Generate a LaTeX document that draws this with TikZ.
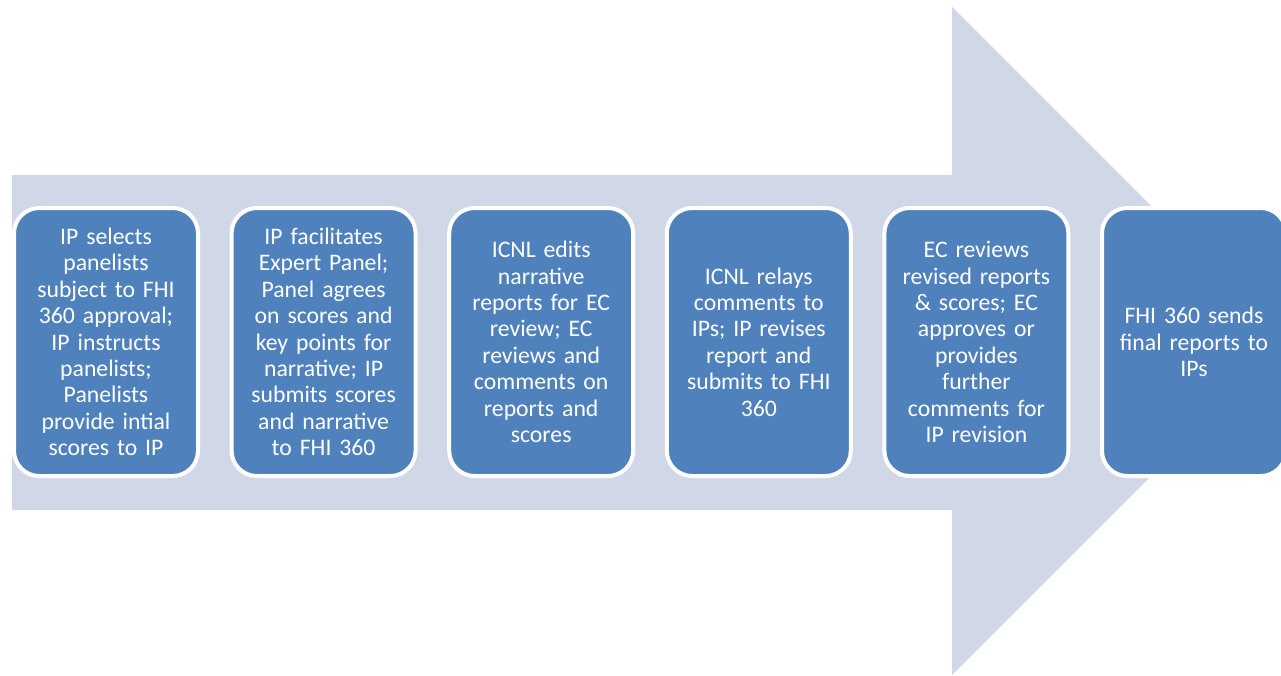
\documentclass[tikz,border=0pt]{standalone}
\usepackage{fontspec}
\setmainfont{Carlito}
\usepackage{tikz}
\usetikzlibrary{positioning}
\definecolor{arrowfill}{HTML}{D0D8E8}
\definecolor{stepfill}{HTML}{4F81BD}
\tikzset{
  stepbox/.style={draw=white, line width=3pt, fill=stepfill, rounded corners=19pt,
    minimum width=138pt, minimum height=201pt, text width=136pt, align=center,
    text=white, font=\fontsize{17.8}{19.8}\selectfont, inner sep=0pt},
}
\begin{document}
\begin{tikzpicture}[x=0.75pt, y=-0.75pt, node distance=22.2pt]
  \useasboundingbox (0,0) rectangle (1281,675);
  \clip (0,0) rectangle (1281,675);
  \fill[arrowfill] (12,175) -- (952,175) -- (952,7) -- (1286,341) -- (952,675) -- (952,510) -- (12,510) -- cycle;
  \node[stepbox] (s1) at (106,342) {IP selects\\panelists\\subject to FHI\\360 approval;\\IP instructs\\panelists;\\Panelists\\provide intial\\scores to IP};
  \node[stepbox, right=of s1] (s2) {IP facilitates\\Expert Panel;\\Panel agrees\\on scores and\\key points for\\narrative; IP\\submits scores\\and narrative\\to FHI 360};
  \node[stepbox, right=of s2] (s3) {ICNL edits\\narrative\\reports for EC\\review; EC\\reviews and\\comments on\\reports and\\scores};
  \node[stepbox, right=of s3] (s4) {ICNL relays\\comments to\\IPs; IP revises\\report and\\submits to FHI\\360};
  \node[stepbox, right=of s4] (s5) {EC reviews\\revised reports\\\& scores; EC\\approves or\\provides\\further\\comments for\\IP revision};
  \node[stepbox, right=of s5] (s6) {FHI 360 sends\\final reports to\\IPs};
\end{tikzpicture}
\end{document}
